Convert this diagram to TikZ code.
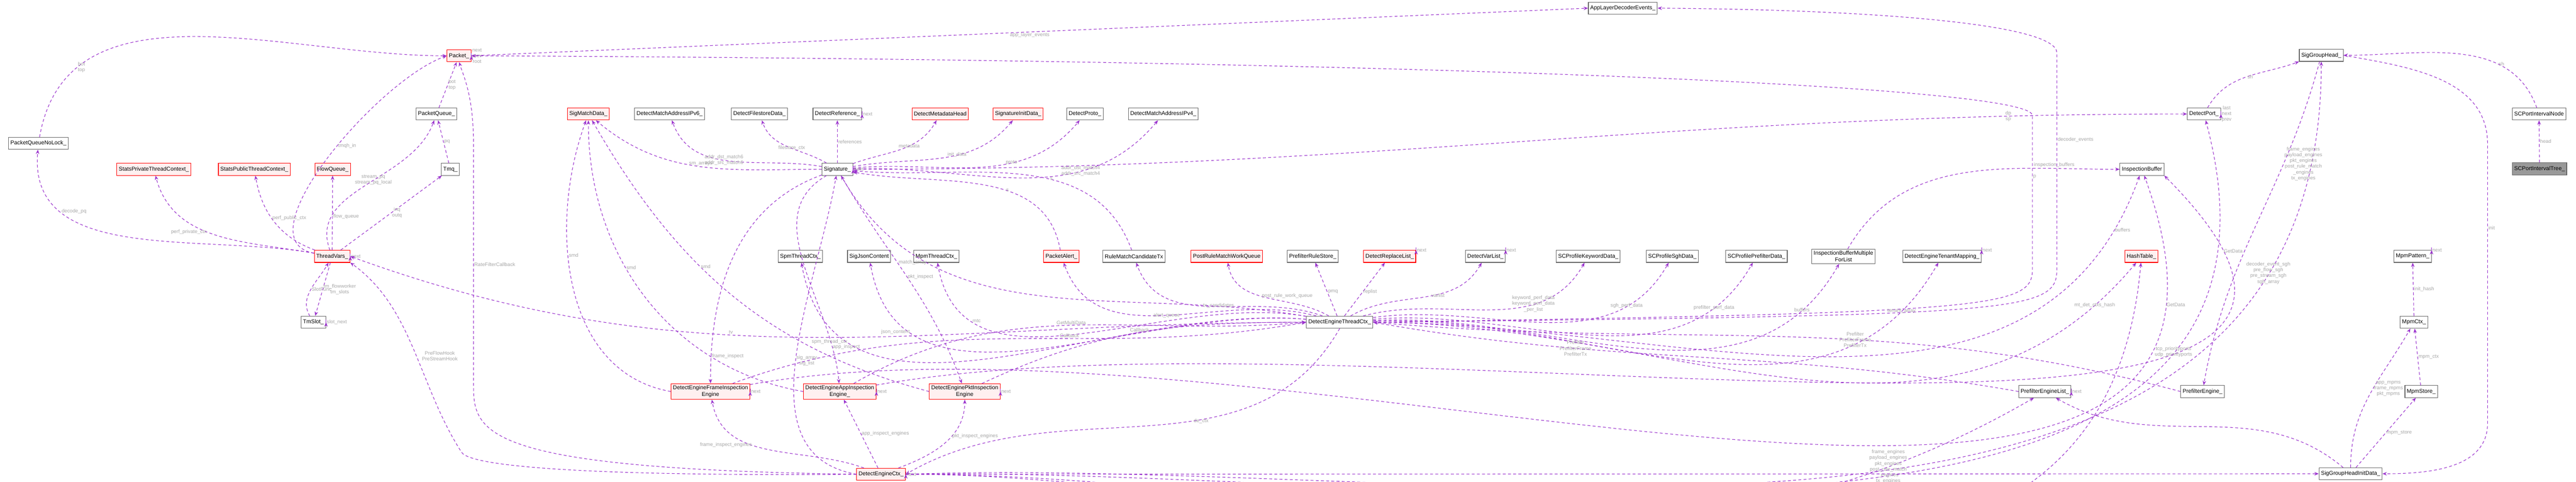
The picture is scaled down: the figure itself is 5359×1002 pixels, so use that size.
\documentclass[tikz,border=0pt]{standalone}
\usepackage{fontspec}
\setmainfont{Liberation Sans}
\usetikzlibrary{arrows.meta}
\definecolor{edgec}{HTML}{9A32CD}
\definecolor{redfill}{HTML}{FFF0F0}

\begin{document}
\begin{tikzpicture}[x=0.25pt,y=-0.25pt,
  box/.style={draw=black!60,line width=0.3pt,fill=white,font=\fontsize{2.9}{3.4}\selectfont,inner sep=1pt,minimum height=6.25pt,align=center},
  hot/.style={box,draw=red,fill=redfill},
  cur/.style={box,fill=black!40},
  rel/.style={draw=edgec,dash pattern=on 1.5pt off 1.2pt,line width=0.3pt,-{Stealth[length=2.3pt,width=1.8pt]}},
  lbl/.style={font=\fontsize{2.6}{3}\selectfont,text=black!35,align=center,fill=none,inner sep=0.3pt}]
\useasboundingbox (0,0) rectangle (5359,1002);
% top rows
\node[hot] (pkt) at (955,116) {Packet\_};
\node[box] (aled) at (3376,17) {AppLayerDecoderEvents\_};
\node[box] (sgh) at (4829,115) {SigGroupHead\_};
\node[box] (pq) at (908,237) {PacketQueue\_};
\node[box] (pqnl) at (80,298) {PacketQueueNoLock\_};
\node[hot] (smd) at (1224,237) {SigMatchData\_};
\node[box] (dma6) at (1393,237) {DetectMatchAddressIPv6\_};
\node[box] (dfs) at (1580,237) {DetectFilestoreData\_};
\node[box] (dref) at (1742,237) {DetectReference\_};
\node[hot] (dmeta) at (1956,237) {DetectMetadataHead};
\node[hot] (sid) at (2118,237) {SignatureInitData\_};
\node[box] (dproto) at (2257,237) {DetectProto\_};
\node[box] (dma4) at (2420,237) {DetectMatchAddressIPv4\_};
\node[box] (dport) at (4585,237) {DetectPort\_};
\node[box] (scpin) at (5282,237) {SCPortIntervalNode};
\node[hot] (spt) at (320,352) {StatsPrivateThreadContext\_};
\node[hot] (sput) at (529,352) {StatsPublicThreadContext\_};
\node[hot] (fq) at (692,352) {FlowQueue\_};
\node[box] (tmq) at (937,352) {Tmq\_};
\node[box] (sig) at (1742,352) {Signature\_};
\node[box] (ib) at (4456,352) {InspectionBuffer};
\node[cur] (scpit) at (5283,351) {SCPortIntervalTree\_};
% middle row
\node[hot] (tv) at (691,533) {ThreadVars\_};
\node[box] (spm) at (1665,533) {SpmThreadCtx\_};
\node[box] (sjc) at (1808,533) {SigJsonContent};
\node[box] (mtc) at (1948,533) {MpmThreadCtx\_};
\node[hot] (palert) at (2208,533) {PacketAlert\_};
\node[box] (rmct) at (2359,533) {RuleMatchCandidateTx};
\node[hot] (prmwq) at (2552,533) {PostRuleMatchWorkQueue};
\node[box] (prs) at (2731,533) {PrefilterRuleStore\_};
\node[hot] (drl) at (2891,533) {DetectReplaceList\_};
\node[box] (dvl) at (3090,533) {DetectVarList\_};
\node[box] (skw) at (3304,533) {SCProfileKeywordData\_};
\node[box] (ssgh) at (3479,533) {SCProfileSghData\_};
\node[box] (spf) at (3654,533) {SCProfilePrefilterData\_};
\node[box] (ibm) at (3835,533) {InspectionBufferMultiple\\ForList};
\node[box] (detm) at (4040,533) {DetectEngineTenantMapping\_};
\node[hot] (ht) at (4455,533) {HashTable\_};
\node[box] (mpat) at (5019,533) {MpmPattern\_};
\node[box] (tms) at (652,670) {TmSlot\_};
\node[box] (detc) at (2787,670) {DetectEngineThreadCtx\_};
\node[box] (mctx) at (5022,670) {MpmCtx\_};
% lower rows
\node[hot] (fie) at (1478,814) {DetectEngineFrameInspection\\Engine};
\node[hot] (aie) at (1747,814) {DetectEngineAppInspection\\Engine\_};
\node[hot] (pie) at (2007,814) {DetectEnginePktInspection\\Engine};
\node[box] (pel) at (4254,814) {PrefilterEngineList\_};
\node[box] (pe) at (4582,814) {PrefilterEngine\_};
\node[box] (mstore) at (5037,814) {MpmStore\_};
\node[hot] (dectx) at (1833,986) {DetectEngineCtx\_};
\node[box] (sghid) at (4890,985) {SigGroupHeadInitData\_};

% Packet_
\draw[rel] (pqnl) to[out=80,in=180] node[lbl,pos=0.2,right]{bot\\top} (pkt);
\draw[rel] (tv) to[out=170,in=200,looseness=0.8] node[lbl,pos=0.55,right]{tmqh\_in} (pkt.west);
\draw[rel] (pq) -- node[lbl,right]{bot\\top} (pkt);
\draw[rel] (dectx.west) .. controls (1000,975) and (985,900) .. (985,800) -- node[lbl,right]{RateFilterCallback} (985,300) .. controls (985,200) and (965,160) .. (pkt.south);
\draw[rel] (pkt.east) to[out=20,in=-20,looseness=5] node[lbl,right]{next\\prev\\root} (pkt.east);
\draw[rel] (pkt.east) -- node[lbl,below]{app\_layer\_events} (aled.west);
\draw[rel] (detc.east) .. controls (4150,650) and (4228,640) .. (4228,560) -- node[lbl,right,pos=0.6]{p} (4228,240) .. controls (4228,180) and (3000,125) .. (pkt.east);
\draw[rel] (detc.east) .. controls (4200,655) and (4279,650) .. (4279,560) -- node[lbl,right,pos=0.6]{decoder\_events} (4279,110) .. controls (4279,50) and (3900,20) .. (aled.east);
% ThreadVars_
\draw[rel] (tv) to[out=110,in=-110] node[lbl,pos=0.55]{stream\_pq\\stream\_pq\_local} (pq);
\draw[rel] (tmq) -- node[lbl,right]{pq} (pq);
\draw[rel] (tv) -- node[lbl,right]{inq\\outq} (tmq);
\draw[rel] (tv) to[out=170,in=-95] node[lbl,pos=0.75,right]{decode\_pq} (pqnl);
\draw[rel] (tv) to[out=170,in=-75] node[lbl,pos=0.55,left]{perf\_private\_ctx} (spt);
\draw[rel] (tv) to[out=160,in=-80] node[lbl,pos=0.55,right]{perf\_public\_ctx} (sput);
\draw[rel] (tv) -- node[lbl,pos=0.45,right]{flow\_queue} (fq);
\draw[rel] (tv.east) to[out=20,in=-20,looseness=5] node[lbl,right]{next} (tv.east);
\draw[rel] (tv) -- node[lbl,right]{tm\_flowworker\\tm\_slots} (tms);
\draw[rel] (tms) to[out=120,in=-120] node[lbl,right]{SlotFunc} (tv);
\draw[rel] (tms.east) to[out=20,in=-20,looseness=5] node[lbl,right]{slot\_next} (tms.east);
\draw[rel] (dectx.west) .. controls (1300,990) and (980,975) .. (960,940) .. controls (870,800) and (860,640) .. (tv.south east);
\node[lbl] (pfh) at (915,740) {PreFlowHook\\PreStreamHook};
\draw[rel] (detc.west) to[out=180,in=-20] node[lbl,pos=0.6,above]{tv} (tv.east);
% Signature_
\draw[rel] (sig.west) to[out=180,in=-40] node[lbl,pos=0.5,above]{sm\_arrays} (smd);
\draw[rel] (sig) to[out=170,in=-70] node[lbl,pos=0.55]{addr\_dst\_match6\\addr\_src\_match6} (dma6);
\draw[rel] (sig) to[out=150,in=-70] node[lbl,pos=0.45]{filestore\_ctx} (dfs);
\draw[rel] (sig) -- node[lbl,right]{references} (dref);
\draw[rel] (dref.east) to[out=20,in=-20,looseness=5] node[lbl,right]{next} (dref.east);
\draw[rel] (sig) to[out=20,in=-120] node[lbl,pos=0.6]{metadata} (dmeta);
\draw[rel] (sig) to[out=10,in=-130] node[lbl,pos=0.6]{init\_data} (sid);
\draw[rel] (sig) to[out=5,in=-130] node[lbl,pos=0.65]{proto} (dproto);
\draw[rel] (sig) to[out=2,in=-130] node[lbl,pos=0.7]{addr\_dst\_match4\\addr\_src\_match4} (dma4);
\draw[rel] (sig) to[out=0,in=180] node[lbl,pos=0.88]{dp\\sp} (dport.west);
\draw[rel] (sig.east) to[out=-20,in=20,looseness=5] node[lbl,right]{next} (sig.east);
\draw[rel] (sig) to[out=200,in=90] node[lbl,pos=0.9,right]{frame\_inspect} (fie);
\draw[rel] (sig) to[out=210,in=95] node[lbl,pos=0.85,right]{app\_inspect} (aie);
\draw[rel] (sig) to[out=-60,in=110] node[lbl,pos=0.5,right]{pkt\_inspect} (pie);
\draw[rel] (dectx.west) to[out=170,in=-100] node[lbl,pos=0.5,right]{sig\_array\\sig\_list} (sig);
\draw[rel] (palert) to[out=100,in=-10] node[lbl,pos=0.4,right]{s} (sig);
\draw[rel] (rmct) to[out=110,in=-5] node[lbl,pos=0.4,right]{s} (sig);
\draw[rel] (detc) to[out=170,in=-60] node[lbl,pos=0.75,left]{match\_array} (sig);
% SigMatchData_
\draw[rel] (fie.west) to[out=170,in=-110] node[lbl,pos=0.6,right]{smd} (smd);
\draw[rel] (aie.west) to[out=170,in=-90] node[lbl,pos=0.6,right]{smd} (smd);
\draw[rel] (pie.west) to[out=165,in=-60] node[lbl,pos=0.6,right]{smd} (smd);
% DetectEngineThreadCtx_
\draw[rel] (detc) to[out=175,in=-80] node[lbl,pos=0.8,left]{spm\_thread\_ctx} (spm);
\draw[rel] (detc) to[out=175,in=-80] node[lbl,pos=0.8,left]{json\_content} (sjc);
\draw[rel] (detc) to[out=170,in=-80] node[lbl,pos=0.8,right]{mtc} (mtc);
\draw[rel] (detc) to[out=165,in=-70] node[lbl,pos=0.55,right]{alert\_queue} (palert);
\draw[rel] (detc) to[out=160,in=-70] node[lbl,pos=0.55,right]{tx\_candidates} (rmct);
\draw[rel] (detc) to[out=150,in=-80] node[lbl,pos=0.55,right]{post\_rule\_work\_queue} (prmwq);
\draw[rel] (detc) -- node[lbl,pos=0.45,right]{pmq} (prs);
\draw[rel] (detc) -- node[lbl,pos=0.45,right]{replist} (drl);
\draw[rel] (drl.north east) to[out=20,in=-20,looseness=4] node[lbl,right]{next} (drl.north east);
\draw[rel] (detc) to[out=30,in=-120] node[lbl,pos=0.55,right]{varlist} (dvl);
\draw[rel] (dvl.north east) to[out=20,in=-20,looseness=4] node[lbl,right]{next} (dvl.north east);
\draw[rel] (detc) to[out=15,in=-120] node[lbl,pos=0.7]{keyword\_perf\_data\\keyword\_perf\_data\\\_per\_list} (skw);
\draw[rel] (detc) to[out=8,in=-120] node[lbl,pos=0.8]{sgh\_perf\_data} (ssgh);
\draw[rel] (detc) to[out=5,in=-120] node[lbl,pos=0.85]{prefilter\_perf\_data} (spf);
\draw[rel] (detc) to[out=3,in=-120] node[lbl,pos=0.88]{buffers} (ibm);
\draw[rel] (detc) to[out=2,in=-120] node[lbl,pos=0.9]{tenant\_array} (detm);
\draw[rel] (detm.north east) to[out=20,in=-20,looseness=4] node[lbl,right]{next} (detm.north east);
\draw[rel] (detc) to[out=0,in=-110] node[lbl,pos=0.93,right]{buffers} (ib);
\draw[rel] (detc) to[out=0,in=-130] node[lbl,pos=0.93]{mt\_det\_ctxs\_hash} (ht);
\draw[rel] (ibm) to[out=60,in=180] node[lbl,pos=0.8,above]{inspection\_buffers} (ib.west);
\draw[rel] (fie) to[out=10,in=-70] node[lbl,pos=0.9,right]{GetData} (ib);
\draw[rel] (aie) to[out=10,in=-45] node[lbl,pos=0.92,right]{GetData} (ib.south east);
\draw[rel] (fie) to[out=20,in=190] node[lbl,pos=0.6,above]{Callback} (detc.west);
\draw[rel] (aie) to[out=30,in=185] node[lbl,pos=0.5,above]{GetMultiData} (detc.west);
\draw[rel] (pie) to[out=25,in=180] node[lbl,pos=0.5,above]{Callback} (detc.west);
\draw[rel] (pel.west) to[out=170,in=-10] node[lbl,pos=0.7]{Prefilter\\PrefilterFrame\\PrefilterTx} (detc.east);
\draw[rel] (pe.west) to[out=165,in=-5] node[lbl,pos=0.4]{Prefilter\\PrefilterFrame\\PrefilterTx} (detc.east);
\draw[rel] (detc.south) to[out=-120,in=30] node[lbl,pos=0.4,right]{de\_ctx} (dectx.east);
% DetectEngineCtx_
\draw[rel] (dectx) to[out=160,in=-80] node[lbl,pos=0.6,left]{frame\_inspect\_engines} (fie);
\draw[rel] (dectx) -- node[lbl,right]{app\_inspect\_engines} (aie);
\draw[rel] (dectx) to[out=20,in=-90] node[lbl,pos=0.6,right]{pkt\_inspect\_engines} (pie);
\draw[rel] (fie.east) to[out=20,in=-20,looseness=4] node[lbl,right]{next} (fie.east);
\draw[rel] (aie.east) to[out=20,in=-20,looseness=4] node[lbl,right]{next} (aie.east);
\draw[rel] (pie.east) to[out=20,in=-20,looseness=4] node[lbl,right]{next} (pie.east);
\draw[rel] (dectx.east) to[out=-20,in=-60,looseness=4] node[lbl,right]{next} (dectx.east);
\draw[rel] (dectx.east) to[out=0,in=-95] node[lbl,pos=0.75]{class\_conf\_ht\\metadata\_table\\non\_pf\_engine\_names\\reference\_conf\_ht} (ht);
\draw[rel] (dectx.east) to[out=2,in=-90] node[lbl,pos=0.85]{decoder\_event\_sgh\\pre\_flow\_sgh\\pre\_stream\_sgh\\sgh\_array} (sgh);
\draw[rel] (dectx.east) to[out=1,in=-75] node[lbl,pos=0.8]{tcp\_priorityports\\udp\_priorityports} (dport);
\draw[rel] (dectx.east) to[out=0,in=-150] node[lbl,pos=0.87]{frame\_engines\\payload\_engines\\pkt\_engines\\post\_rule\_match\\\_engines\\tx\_engines} (pel);
\draw[rel] (dectx.east) -- (sghid.west);
% SigGroupHead_ and friends
\draw[rel] (sgh) to[out=-105,in=80] node[lbl,pos=0.3,right]{frame\_engines\\payload\_engines\\pkt\_engines\\post\_rule\_match\\\_engines\\tx\_engines} (pe);
\draw[rel] (sgh.east) to[out=-10,in=90] (5175,300) -- node[lbl,pos=0.3,right]{init} (5175,880) to[out=-90,in=0] (sghid.east);
\draw[rel] (sghid) to[out=140,in=-30] (pel);
\draw[rel] (pel.east) to[out=20,in=-20,looseness=4] node[lbl,right]{next} (pel.east);
\draw[rel] (sghid) to[out=90,in=-120] node[lbl,pos=0.55,right]{app\_mpms\\frame\_mpms\\pkt\_mpms} (mctx);
\draw[rel] (sghid) -- node[lbl,right]{mpm\_store} (mstore);
\draw[rel] (mstore) -- node[lbl,right]{mpm\_ctx} (mctx);
\draw[rel] (mctx) -- node[lbl,right]{init\_hash} (mpat);
\draw[rel] (mpat.north east) to[out=20,in=-20,looseness=4] node[lbl,right]{next} (mpat.north east);
\draw[rel] (dport) to[out=60,in=200] node[lbl,pos=0.5,right]{sh} (sgh.south west);
\draw[rel] (dport.east) to[out=20,in=-20,looseness=5] node[lbl,right]{last\\next\\prev} (dport.east);
\draw[rel] (scpin) to[out=110,in=0] node[lbl,pos=0.3,right]{sh} (sgh.east);
\draw[rel] (scpit) -- node[lbl,right]{head} (scpin);
\end{tikzpicture}
\end{document}
